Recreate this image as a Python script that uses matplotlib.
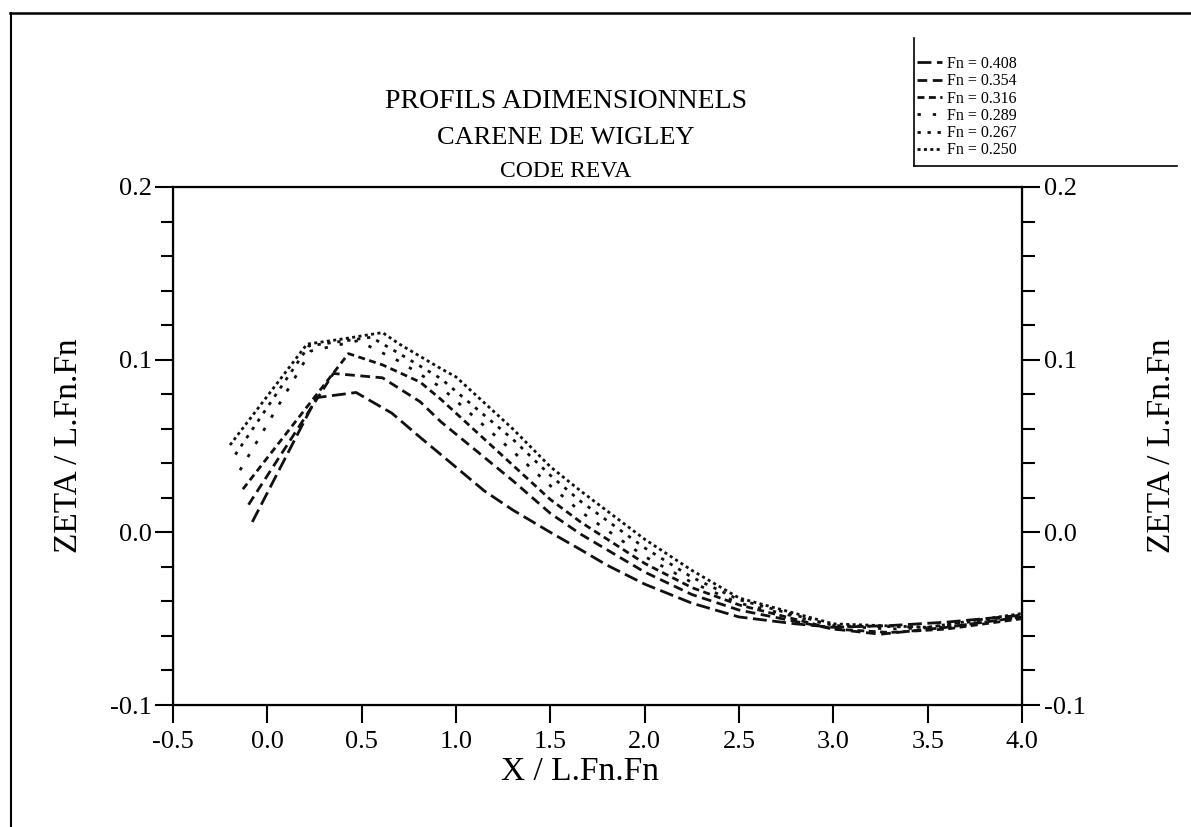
import numpy as np
import matplotlib
matplotlib.use("Agg")
from matplotlib import pyplot as plt
from matplotlib.ticker import MultipleLocator, FormatStrFormatter
from matplotlib.lines import Line2D

plt.rcParams['font.family'] = ['Liberation Serif', 'DejaVu Serif']
plt.rcParams['axes.unicode_minus'] = False

# Froude numbers (legend order)
fn_labels = ['Fn = 0.408', 'Fn = 0.354', 'Fn = 0.316', 'Fn = 0.289', 'Fn = 0.267', 'Fn = 0.250']

x_408 = [-0.08, 0.26, 0.47, 0.66, 0.81, 0.92, 1.15, 1.30, 1.50, 1.66, 1.80, 2.00, 2.25, 2.50, 2.80, 3.00, 3.30, 3.60, 4.00]
y_408 = [0.006, 0.078, 0.081, 0.069, 0.055, 0.045, 0.024, 0.013, 0.000, -0.010, -0.019, -0.030, -0.041, -0.049, -0.053, -0.055, -0.054, -0.052, -0.048]

x_354 = [-0.10, 0.35, 0.61, 0.81, 0.92, 1.30, 1.50, 1.66, 2.00, 2.25, 2.50, 3.00, 3.25, 3.60, 4.00]
y_354 = [0.016, 0.092, 0.0895, 0.0756, 0.064, 0.030, 0.011, -0.001, -0.023, -0.036, -0.045, -0.056, -0.059, -0.055, -0.049]

x_316 = [-0.13, 0.43, 0.61, 0.81, 0.92, 1.30, 1.50, 1.66, 2.00, 2.25, 2.50, 3.00, 3.30, 3.60, 4.00]
y_316 = [0.025, 0.1035, 0.097, 0.087, 0.077, 0.039, 0.019, 0.006, -0.018, -0.032, -0.042, -0.056, -0.058, -0.056, -0.050]

x_289 = [-0.145, 0.23, 0.48, 0.70, 0.92, 1.30, 1.50, 1.66, 2.00, 2.25, 2.50, 3.00, 3.30, 3.60, 4.00]
y_289 = [0.036, 0.105, 0.111, 0.099, 0.084, 0.047, 0.027, 0.012, -0.014, -0.029, -0.041, -0.054, -0.056, -0.055, -0.049]

x_267 = [-0.17, 0.22, 0.55, 0.70, 0.92, 1.30, 1.50, 1.66, 2.00, 2.25, 2.50, 3.00, 3.50, 4.00]
y_267 = [0.045, 0.108, 0.113, 0.1035, 0.089, 0.054, 0.033, 0.018, -0.009, -0.026, -0.039, -0.054, -0.055, -0.048]

x_250 = [-0.198, 0.21, 0.40, 0.61, 0.70, 0.92, 1.00, 1.30, 1.50, 1.66, 2.00, 2.25, 2.50, 3.00, 3.50, 4.00]
y_250 = [0.0506, 0.109, 0.112, 0.1157, 0.109, 0.0948, 0.090, 0.060, 0.038, 0.024, -0.004, -0.022, -0.038, -0.053, -0.055, -0.047]

xs = [x_408, x_354, x_316, x_289, x_267, x_250]
ys = [y_408, y_354, y_316, y_289, y_267, y_250]
dashes = [(5, 2), (3.5, 2), (2.5, 1.6), (1.2, 4.3), (1.2, 2.4), (1.1, 1.2)]

fig = plt.figure(figsize=(11.91, 8.27), dpi=100)
ax = fig.add_axes([0.1453, 0.1475, 0.7128, 0.6264])

lines = []
for x, y, d, lab in zip(xs, ys, dashes, fn_labels):
    l, = ax.plot(x, y, color='#111111', linewidth=2.0, dashes=d, label=lab)
    lines.append(l)

ax.set_xlim(-0.5, 4.0)
ax.set_ylim(-0.1, 0.2)
ax.xaxis.set_major_locator(MultipleLocator(0.5))
ax.yaxis.set_major_locator(MultipleLocator(0.1))
ax.yaxis.set_minor_locator(MultipleLocator(0.02))
ax.xaxis.set_major_formatter(FormatStrFormatter('%.1f'))
ax.yaxis.set_major_formatter(FormatStrFormatter('%.1f'))
ax.tick_params(which='major', direction='out', length=13, width=1.5, labelsize=19, pad=2)
ax.tick_params(which='minor', direction='out', length=9, width=1.5)
ax.tick_params(axis='x', pad=6)
for s in ax.spines.values():
    s.set_linewidth(1.6)

ax2 = ax.twinx()
ax2.set_ylim(-0.1, 0.2)
ax2.yaxis.set_major_locator(MultipleLocator(0.1))
ax2.yaxis.set_minor_locator(MultipleLocator(0.02))
ax2.yaxis.set_major_formatter(FormatStrFormatter('%.1f'))
ax2.tick_params(which='major', direction='out', length=13, width=1.5, labelsize=19, pad=3)
ax2.tick_params(which='minor', direction='out', length=9, width=1.5)

ax.set_xlabel('X / L.Fn.Fn', fontsize=24)
ax.xaxis.set_label_coords(0.479, -0.10)
ax.set_ylabel('ZETA / L.Fn.Fn', fontsize=24)
ax.yaxis.set_label_coords(-0.105, 0.5)
ax2.set_ylabel('ZETA / L.Fn.Fn', fontsize=24, rotation=90)
ax2.yaxis.set_label_coords(1.147, 0.5)

# title block
fig.text(0.475, 0.8767, 'PROFILS ADIMENSIONNELS', ha='center', va='center', fontsize=20)
fig.text(0.475, 0.8331, 'CARENE DE WIGLEY', ha='center', va='center', fontsize=19)
fig.text(0.475, 0.7932, 'CODE REVA', ha='center', va='center', fontsize=17)

# legend
fig.legend(handles=lines, loc='upper left', bbox_to_anchor=(917 / 1191, 1 - 56 / 827),
           frameon=False, fontsize=11.5, handlelength=1.55, handletextpad=0.3,
           labelspacing=0.08, borderpad=0, borderaxespad=0)

# page frame and legend box edges
W, H = 1191.0, 827.0
fig.add_artist(Line2D([10 / W, 1], [1 - 13 / H, 1 - 13 / H], color='black', linewidth=1.8))
fig.add_artist(Line2D([11 / W, 11 / W], [0, 1 - 13 / H], color='black', linewidth=1.5))
fig.add_artist(Line2D([914 / W, 914 / W], [1 - 38 / H, 1 - 166 / H], color='black', linewidth=1.2))
fig.add_artist(Line2D([914 / W, 1177 / W], [1 - 166 / H, 1 - 166 / H], color='black', linewidth=1.2))

fig.savefig('out.png', dpi=100)
